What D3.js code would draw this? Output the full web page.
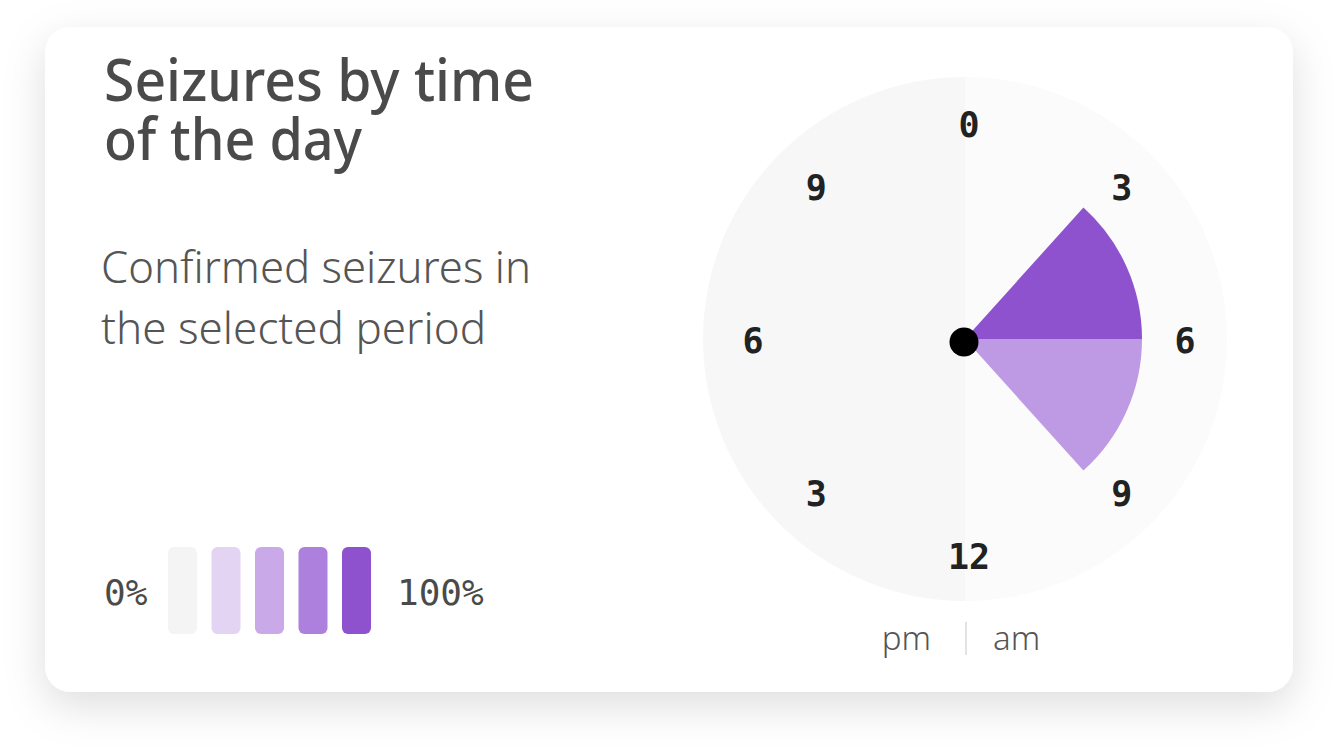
<!DOCTYPE html>
<html>
<head>
<meta charset="utf-8">
<script src="https://cdn.jsdelivr.net/npm/d3@7"></script>
<style>
  body { margin: 0; background: #fff; }
  svg { display: block; }
</style>
</head>
<body>
<svg id="chart" width="1336" height="754"></svg>
<script>
// chart data
const titleLines = ["Seizures by time", "of the day"];
const subtitleLines = ["Confirmed seizures in", "the selected period"];
const legendLevels = [0, 0.25, 0.5, 0.75, 1];
const legendColors = ["#f4f4f4", "#e4d4f4", "#c9a9e8", "#ae80dd", "#8f52cf"];
const legendLabels = ["0%", "100%"];
// seizure bins: start hour, end hour, share of seizures relative to max
const binStart = [2.8, 6];
const binEnd = [6, 9.2];
const binShare = [1, 0.6];
// hour labels around the clock (24h, 0 at top, clockwise)
const tickHours = [0, 3, 6, 9, 12, 15, 18, 21];
const tickLabels = ["0", "3", "6", "9", "12", "3", "6", "9"];
const halves = ["pm", "am"];

const svg = d3.select("#chart");

// card + shadow
const defs = svg.append("defs");
const f = defs.append("filter").attr("id", "shadow")
  .attr("x", "-20%").attr("y", "-20%").attr("width", "140%").attr("height", "150%");
f.append("feDropShadow").attr("dx", 0).attr("dy", 14).attr("stdDeviation", 20)
  .attr("flood-color", "#000").attr("flood-opacity", 0.13);

svg.append("rect")
  .attr("x", 45).attr("y", 27).attr("width", 1248).attr("height", 665)
  .attr("rx", 26).attr("fill", "#fff").attr("filter", "url(#shadow)");

// title
const title = svg.append("text")
  .attr("fill", "#4a4a4a")
  .style("font-family", "'Noto Sans', sans-serif")
  .style("font-weight", 500)
  .style("font-size", "58px");
title.selectAll("tspan").data(titleLines).join("tspan")
  .attr("x", 104).attr("y", (d, i) => 101 + i * 59)
  .attr("textLength", (d, i) => [430, 258][i])
  .attr("lengthAdjust", "spacingAndGlyphs")
  .text(d => d);

// subtitle
const sub = svg.append("text")
  .attr("fill", "#555")
  .style("font-family", "'Noto Sans', sans-serif")
  .style("font-weight", 300)
  .style("font-size", "44px");
sub.selectAll("tspan").data(subtitleLines).join("tspan")
  .attr("x", 101).attr("y", (d, i) => 283 + i * 61)
  .attr("textLength", (d, i) => [430, 385][i])
  .attr("lengthAdjust", "spacingAndGlyphs")
  .text(d => d);

// legend
const lx = d3.scaleBand().domain(legendLevels).range([168, 371]).paddingInner(0.333);
const color = d3.scaleLinear().domain(legendLevels).range(legendColors);

svg.append("g").selectAll("rect").data(legendLevels).join("rect")
  .attr("x", d => lx(d)).attr("y", 547)
  .attr("width", lx.bandwidth()).attr("height", 87)
  .attr("rx", 6)
  .attr("fill", d => color(d));

svg.append("g").selectAll("text").data(legendLabels).join("text")
  .attr("x", (d, i) => i === 0 ? 104 : 397)
  .attr("y", 605)
  .attr("fill", "#4a4a4a")
  .style("font-family", "'DejaVu Sans Mono', monospace")
  .style("font-size", "36px")
  .text(d => d);

// clock
const cx = 965, cy = 339;
const R = 262;
const angle = d3.scaleLinear().domain([0, 24]).range([0, 2 * Math.PI]);
const clock = svg.append("g").attr("transform", `translate(${cx},${cy})`);

const bgArc = d3.arc().innerRadius(0).outerRadius(R);
clock.selectAll("path.bg").data([[12, 24, "#f7f7f7"], [0, 12, "#fbfbfb"]]).join("path")
  .attr("class", "bg")
  .attr("d", d => bgArc({ startAngle: angle(d[0]), endAngle: angle(d[1]) }))
  .attr("fill", d => d[2]);

const bins = binStart.map((s, i) => ({ start: s, end: binEnd[i], share: binShare[i] }));
const binArc = d3.arc().innerRadius(0).outerRadius(177);
clock.selectAll("path.bin").data(bins).join("path")
  .attr("class", "bin")
  .attr("d", d => binArc({ startAngle: angle(d.start), endAngle: angle(d.end) }))
  .attr("fill", d => color(d.share));

clock.append("circle").attr("cx", -1).attr("cy", 3).attr("r", 14.5).attr("fill", "#000");

const labelR = 216;
clock.selectAll("text.tick").data(tickHours).join("text")
  .attr("class", "tick")
  .attr("x", d => Math.sin(angle(d)) * labelR + 4)
  .attr("y", d => -Math.cos(angle(d)) * labelR + 2)
  .attr("text-anchor", "middle")
  .attr("dominant-baseline", "central")
  .attr("fill", "#222")
  .style("font-family", "'DejaVu Sans Mono', monospace")
  .style("font-weight", "bold")
  .style("font-size", "35px")
  .text((d, i) => tickLabels[i]);

// am / pm
svg.append("line")
  .attr("x1", 966).attr("x2", 966).attr("y1", 622).attr("y2", 655)
  .attr("stroke", "#e2e2e2").attr("stroke-width", 2);

svg.append("g").selectAll("text").data(halves).join("text")
  .attr("x", (d, i) => i === 0 ? 931 : 993)
  .attr("y", 650)
  .attr("text-anchor", (d, i) => i === 0 ? "end" : "start")
  .attr("fill", "#555")
  .style("font-family", "'Noto Sans', sans-serif")
  .style("font-weight", 300)
  .style("font-size", "33px")
  .text(d => d);
</script>
</body>
</html>
